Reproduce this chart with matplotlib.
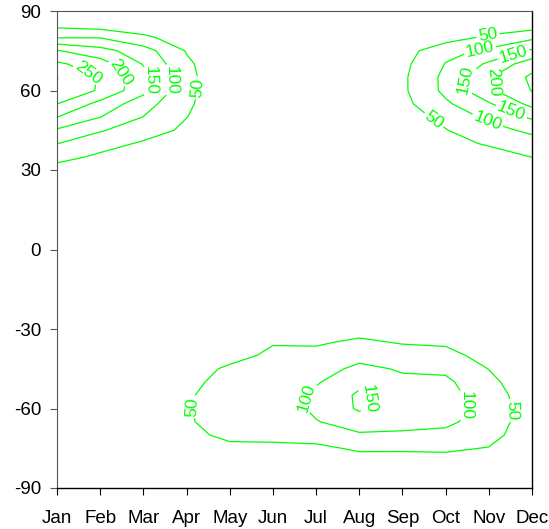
import numpy as np
import matplotlib
matplotlib.use("Agg")
import matplotlib.pyplot as plt

plt.rcParams["font.family"] = ["Liberation Sans", "DejaVu Sans"]
plt.rcParams["axes.unicode_minus"] = False

# ─── data: one latitude profile per month, lat -90 .. 90 every 5 deg ─────────
MONTHS = ["Jan", "Feb", "Mar", "Apr", "May", "Jun",
          "Jul", "Aug", "Sep", "Oct", "Nov", "Dec"]
LATS = list(range(-90, 91, 5))

#        -90 -85 -80 -75 -70 -65 -60 -55 -50 -45 -40 -35 -30 -25 -20 -15 -10 -5   0
#          5  10  15  20  25  30  35  40  45  50  55  60  65  70  75  80  85  90
jan = [5, 6, 8, 10, 12, 13, 13, 12, 10, 8, 6, 5, 4, 3, 3, 2, 2, 2, 2,
       2, 3, 4, 5, 12, 27, 70, 101, 144, 201, 251, 299, 301, 259, 203, 97, 32, 15]
feb = [5, 7, 9, 12, 14, 16, 16, 15, 13, 10, 8, 6, 5, 4, 3, 3, 2, 2, 2,
       2, 3, 4, 6, 10, 25, 40, 72, 104, 151, 185, 243, 245, 223, 168, 98, 21, 10]
mar = [6, 9, 13, 18, 22, 25, 26, 25, 22, 18, 14, 10, 7, 5, 4, 3, 3, 2, 2,
       2, 3, 4, 5, 7, 15, 28, 43, 75, 99, 121, 165, 170, 147, 122, 60, 15, 8]
apr = [8, 12, 20, 32, 43, 47, 48, 47, 44, 36, 28, 20, 14, 10, 7, 5, 4, 3, 3,
       3, 4, 6, 8, 11, 14, 18, 28, 40, 51, 58, 62, 62, 58, 47, 25, 12, 6]
may = [8, 12, 22, 44, 56, 62, 64, 62, 58, 55, 40, 30, 22, 15, 10, 7, 5, 4, 3,
       3, 3, 3, 4, 4, 5, 6, 8, 10, 12, 14, 15, 15, 14, 12, 9, 6, 4]
jun = [8, 12, 22, 45, 56, 60, 62, 62, 62, 60, 56, 48, 22, 14, 9, 6, 4, 3, 3,
       3, 3, 3, 3, 3, 4, 4, 5, 6, 7, 8, 8, 8, 7, 6, 5, 4, 3]
jul = [8, 12, 22, 40, 70, 97, 112, 110, 95, 78, 62, 45, 25, 15, 10, 6, 4, 3, 3,
       3, 3, 3, 3, 3, 4, 4, 5, 6, 7, 8, 9, 9, 8, 7, 5, 4, 3]
aug = [10, 15, 30, 57, 93, 128, 156, 158, 138, 112, 83, 57, 35, 20, 12, 7, 5, 4, 3,
       3, 3, 3, 4, 4, 5, 6, 7, 9, 10, 12, 12, 12, 11, 9, 7, 5, 3]
sep = [10, 15, 32, 56, 93, 115, 125, 124, 110, 95, 68, 47, 30, 18, 11, 7, 5, 4, 3,
       3, 4, 5, 7, 9, 12, 15, 18, 20, 28, 36, 41, 41, 37, 28, 15, 8, 5]
oct_ = [10, 15, 34, 57, 88, 110, 120, 118, 110, 90, 63, 44, 28, 17, 10, 6, 4, 3, 3,
        3, 4, 5, 7, 9, 12, 22, 35, 48, 63, 92, 112, 113, 102, 85, 27, 15, 8]
nov = [8, 14, 28, 48, 68, 78, 80, 74, 62, 49, 35, 25, 16, 10, 7, 5, 4, 3, 3,
       3, 4, 5, 8, 12, 15, 30, 55, 80, 112, 145, 190, 195, 158, 110, 60, 10, 5]
dec = [5, 7, 10, 14, 18, 22, 24, 22, 18, 15, 12, 9, 7, 5, 4, 3, 3, 3, 3,
       3, 4, 6, 10, 15, 25, 51, 75, 112, 158, 215, 252, 260, 229, 157, 89, 19, 10]

LEVELS = [50, 100, 150, 200, 250, 300]
YTICKS = [-90, -60, -30, 0, 30, 60, 90]

# where the inline labels sit (month index, latitude)
LABEL_SPOTS = [
    (0.65, 64), (1.3, 64), (2.0, 64), (2.5, 64), (3.15, 61),
    (9.98, 81), (8.68, 47.7), (9.8, 74.5), (9.96, 48.1), (9.45, 64),
    (10.56, 74.2), (10.49, 50.8), (10.14, 63.2),
    (3.15, -59.4), (10.47, -60.6), (5.79, -56), (9.52, -58.7), (7.36, -56.8),
]


def main():
    z = np.column_stack([jan, feb, mar, apr, may, jun,
                         jul, aug, sep, oct_, nov, dec])
    x = np.arange(len(MONTHS))
    y = np.array(LATS)

    fig = plt.figure(figsize=(5.49, 5.29), dpi=100)
    ax = fig.add_axes([57 / 549, 1 - 488 / 529, 475 / 549, 477 / 529])

    cs = ax.contour(x, y, z, levels=LEVELS, colors="#00ff00", linewidths=0.9)
    ax.clabel(cs, fmt="%d", fontsize=12.5, inline=True, inline_spacing=2,
              manual=LABEL_SPOTS)

    ax.set_xlim(0, 11)
    ax.set_ylim(-90, 90)
    ax.set_xticks(x)
    ax.set_xticklabels(MONTHS)
    ax.set_yticks(YTICKS)
    ax.tick_params(direction="out", length=5, width=0.8, labelsize=13.5,
                   top=False, right=False)
    ax.tick_params(axis="x", pad=10.5)
    ax.tick_params(axis="y", pad=6.5, color="#555555")
    for name, side in ax.spines.items():
        if name in ("left", "top"):
            side.set_color("#555555")
            side.set_linewidth(0.8)
        else:
            side.set_linewidth(1.0)

    fig.savefig("out.png", dpi=100)


if __name__ == "__main__":
    main()
